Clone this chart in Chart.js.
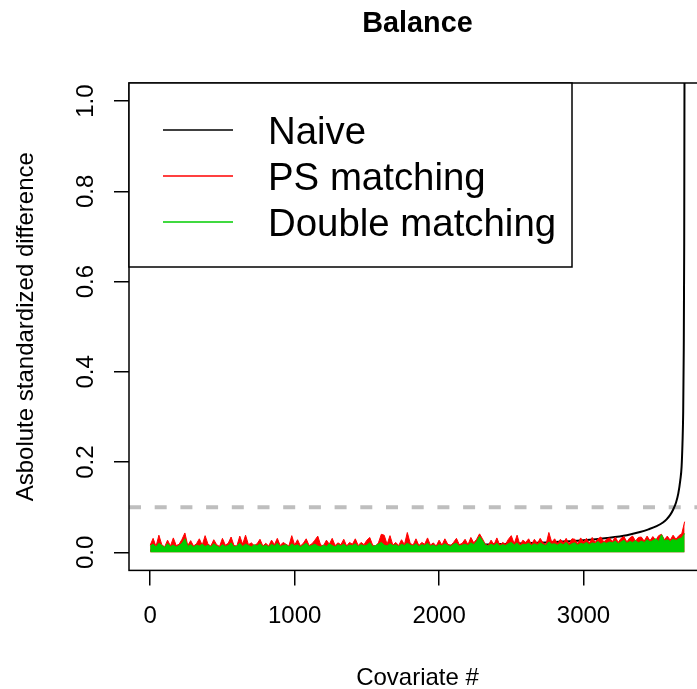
<!DOCTYPE html>
<html>
<head>
<meta charset="utf-8">
<script src="https://cdn.jsdelivr.net/npm/chart.js@4/dist/chart.umd.min.js"></script>
<style>
body{margin:0;overflow:hidden;background:#fff}
#wrap{width:720px;height:689px;position:relative}
</style>
</head>
<body>
<div id="wrap"><canvas id="myChart"></canvas></div>
<script>
var FONT = "'Liberation Sans', Arial, sans-serif";

var chartTitle = "Balance";
var xTitle = "Covariate #";
var yTitle = "Asbolute standardized difference";
var seriesNames = ["Naive", "PS matching", "Double matching"];
var seriesColors = ["#000000", "#ff0000", "#00cd00"];
var xTicks = [0, 1000, 2000, 3000];
var yTicks = [0, 0.2, 0.4, 0.6, 0.8, 1.0];
var refLine = 0.1;
var nCov = 3700;

// naive: sorted differences
var naiveCov = [1, 200, 500, 1000, 1500, 2000, 2500, 2800, 3000, 3163, 3300, 3391, 3450, 3506, 3550, 3575, 3600, 3621, 3640, 3656, 3670, 3679, 3685, 3690, 3694, 3697, 3699, 3700];
var naiveVal = [0.004, 0.005, 0.006, 0.008, 0.010, 0.014, 0.019, 0.023, 0.027, 0.032, 0.038, 0.045, 0.051, 0.058, 0.066, 0.073, 0.083, 0.095, 0.110, 0.130, 0.160, 0.190, 0.240, 0.310, 0.450, 0.680, 1.050, 1.300];

// matched series, one value every 20 covariates (0..3700)
var covStep = 20;
var psVal = [
  .016,.031,.013,.038,.017,.012,.027,.014,.032,.015,
  .018,.029,.043,.015,.026,.014,.019,.030,.016,.037,
  .018,.014,.028,.017,.013,.031,.016,.020,.034,.015,
  .014,.036,.018,.038,.017,.021,.015,.019,.029,.014,
  .020,.014,.027,.017,.031,.015,.022,.018,.014,.037,
  .016,.028,.014,.020,.030,.015,.019,.027,.036,.016,
  .015,.027,.018,.031,.015,.021,.017,.029,.014,.022,
  .018,.030,.015,.022,.017,.027,.033,.016,.014,.021,
  .040,.038,.018,.037,.016,.022,.015,.028,.017,.044,
  .020,.016,.030,.015,.022,.018,.032,.016,.021,.014,
  .027,.016,.030,.018,.015,.022,.031,.017,.020,.029,
  .017,.033,.021,.029,.041,.030,.018,.015,.027,.017,
  .032,.016,.022,.018,.029,.037,.019,.038,.016,.027,
  .022,.030,.017,.029,.019,.031,.021,.017,.044,.022,
  .030,.019,.029,.021,.031,.018,.030,.029,.019,.032,
  .023,.031,.020,.033,.022,.030,.034,.023,.029,.032,
  .024,.034,.022,.031,.035,.023,.032,.036,.025,.033,
  .034,.025,.036,.026,.035,.027,.037,.040,.028,.036,
  .027,.038,.029,.037,.041,.068
];
var dmVal = [
  .014,.018,.012,.020,.015,.011,.019,.013,.016,.012,
  .015,.020,.030,.013,.017,.012,.016,.014,.018,.013,
  .016,.012,.019,.014,.011,.017,.013,.015,.021,.012,
  .014,.020,.013,.018,.015,.012,.017,.014,.019,.013,
  .016,.012,.018,.014,.020,.013,.015,.017,.012,.019,
  .014,.017,.012,.016,.020,.013,.015,.018,.014,.012,
  .016,.013,.019,.015,.012,.017,.014,.018,.013,.016,
  .015,.019,.013,.017,.014,.016,.021,.013,.015,.018,
  .022,.016,.014,.019,.015,.017,.013,.018,.015,.020,
  .016,.014,.019,.013,.017,.015,.020,.014,.016,.013,
  .017,.014,.019,.015,.013,.018,.020,.014,.016,.018,
  .015,.021,.017,.024,.035,.026,.016,.014,.018,.015,
  .020,.014,.017,.015,.019,.022,.016,.021,.014,.018,
  .017,.020,.015,.019,.016,.021,.017,.015,.023,.018,
  .019,.016,.020,.017,.022,.015,.019,.021,.016,.020,
  .018,.022,.017,.021,.019,.024,.018,.022,.020,.023,
  .021,.025,.019,.023,.027,.020,.024,.022,.026,.021,
  .025,.022,.028,.023,.026,.030,.024,.039,.025,.028,
  .024,.029,.026,.030,.032,.042
];

function stepPoints(vals) {
  return vals.map(function (v, i) { return {x: i * covStep, y: v}; });
}
var naivePts = naiveCov.map(function (c, i) { return {x: c, y: naiveVal[i]}; });

// R style extras: title, axis labels, rotated y labels, box, legend, abline
const decor = {
  id: "decor",
  beforeDatasetsDraw(chart) {
    const ctx = chart.ctx, a = chart.chartArea, y = chart.scales.y;
    const py = y.getPixelForValue(refLine);
    ctx.save();
    ctx.strokeStyle = "#bebebe";
    ctx.lineWidth = 4;
    ctx.setLineDash([12, 13.7]);
    ctx.beginPath();
    ctx.moveTo(a.left, py);
    ctx.lineTo(a.right, py);
    ctx.stroke();
    ctx.restore();
  },
  afterDraw(chart) {
    const ctx = chart.ctx, a = chart.chartArea, y = chart.scales.y;
    const cx = (a.left + a.right) / 2;
    ctx.save();
    ctx.strokeStyle = "#000";
    ctx.lineWidth = 1.5;
    ctx.strokeRect(a.left, a.top, a.right - a.left, a.bottom - a.top);

    ctx.fillStyle = "#000";
    ctx.textAlign = "center";
    ctx.textBaseline = "alphabetic";
    ctx.font = "bold 28.8px " + FONT;
    ctx.fillText(chartTitle, cx, 32);
    ctx.font = "24px " + FONT;
    ctx.fillText(xTitle, cx, 685);

    yTicks.forEach(function (v) {
      ctx.save();
      ctx.translate(93, y.getPixelForValue(v));
      ctx.rotate(-Math.PI / 2);
      ctx.fillText(v.toFixed(1), 0, 0);
      ctx.restore();
    });
    ctx.save();
    ctx.translate(33, (a.top + a.bottom) / 2);
    ctx.rotate(-Math.PI / 2);
    ctx.fillText(yTitle, 0, 0);
    ctx.restore();

    // legend
    ctx.fillStyle = "#fff";
    ctx.fillRect(a.left, a.top, 443, 184);
    ctx.strokeRect(a.left, a.top, 443, 184);
    ctx.font = "38.4px " + FONT;
    ctx.textAlign = "left";
    seriesNames.forEach(function (name, i) {
      const ry = a.top + 47 + i * 46;
      ctx.strokeStyle = seriesColors[i];
      ctx.lineWidth = 1.5;
      ctx.beginPath();
      ctx.moveTo(163, ry);
      ctx.lineTo(233, ry);
      ctx.stroke();
      ctx.fillStyle = "#000";
      ctx.fillText(name, 268, ry + 14);
    });
    ctx.restore();
  }
};

new Chart("myChart", {
  type: "line",
  data: {
    datasets: [{
      label: seriesNames[0],
      data: naivePts,
      borderColor: seriesColors[0],
      borderWidth: 2,
      pointRadius: 0,
      cubicInterpolationMode: "monotone",
      fill: false,
      order: 3
    }, {
      label: seriesNames[1],
      data: stepPoints(psVal),
      borderColor: seriesColors[1],
      backgroundColor: seriesColors[1],
      borderWidth: 1,
      pointRadius: 0,
      tension: 0,
      fill: "origin",
      order: 2
    }, {
      label: seriesNames[2],
      data: stepPoints(dmVal),
      borderColor: seriesColors[2],
      backgroundColor: seriesColors[2],
      borderWidth: 1,
      pointRadius: 0,
      tension: 0,
      fill: "origin",
      order: 1
    }]
  },
  options: {
    responsive: true,
    maintainAspectRatio: false,
    animation: false,
    layout: {padding: {left: 114, right: 14, top: 83, bottom: 41.6}},
    plugins: {legend: {display: false}, title: {display: false}, tooltip: {enabled: false}},
    scales: {
      x: {
        type: "linear",
        min: 1 - 0.04 * (nCov - 1),
        max: nCov + 0.04 * (nCov - 1),
        afterBuildTicks: function (s) { s.ticks = xTicks.map(function (v) { return {value: v}; }); },
        grid: {drawOnChartArea: false, tickLength: 15, color: "#000", lineWidth: 1.5},
        border: {display: false},
        ticks: {color: "#000", padding: 16.6, font: {size: 24, family: FONT}, maxRotation: 0,
                callback: function (v) { return String(v); }}
      },
      y: {
        min: -0.04,
        max: 1.04,
        afterBuildTicks: function (s) { s.ticks = yTicks.map(function (v) { return {value: v}; }); },
        grid: {drawOnChartArea: false, tickLength: 15, color: "#000", lineWidth: 1.5},
        border: {display: false},
        ticks: {display: false}
      }
    }
  },
  plugins: [decor]
});
</script>
</body>
</html>
